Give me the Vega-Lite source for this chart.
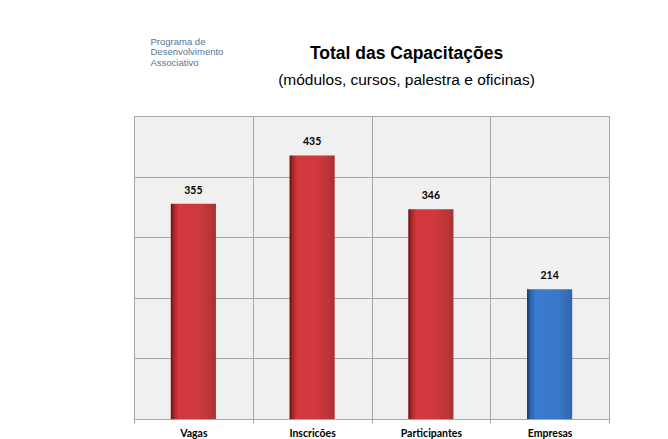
{
  "$schema": "https://vega.github.io/schema/vega-lite/v6.json",
  "autosize": "none",
  "width": 475,
  "height": 303,
  "padding": {"left": 134, "top": 116, "right": 59, "bottom": 20},
  "background": "white",
  "title": {
    "text": "Total das Capacitações",
    "subtitle": "(módulos, cursos, palestra e oficinas)",
    "font": "Liberation Sans",
    "fontSize": 17.5,
    "fontWeight": "bold",
    "color": "#000000",
    "subtitleFont": "Liberation Sans",
    "subtitleFontSize": 15.5,
    "subtitleColor": "#000000",
    "subtitlePadding": 10,
    "anchor": "middle",
    "frame": "bounds",
    "dx": 35,
    "offset": -52
  },
  "data": {
    "values": [
      {"categoria": "Vagas", "total": 355, "grupo": "a"},
      {"categoria": "Inscricões", "total": 435, "grupo": "a"},
      {"categoria": "Participantes", "total": 346, "grupo": "a"},
      {"categoria": "Empresas", "total": 214, "grupo": "b"}
    ]
  },
  "encoding": {
    "x": {
      "field": "categoria",
      "type": "nominal",
      "sort": null,
      "scale": {"paddingInner": 0, "paddingOuter": 0},
      "axis": {
        "title": null,
        "labelAngle": 0,
        "labelFont": "Lato",
        "labelFontSize": 10.5,
        "labelFontWeight": "bold",
        "labelColor": "#000000",
        "labelPadding": 5,
        "grid": true,
        "gridColor": "#a6a6a6",
        "tickBand": "extent",
        "domainColor": "#a6a6a6",
        "tickColor": "#a6a6a6",
        "tickSize": 4
      }
    },
    "y": {
      "field": "total",
      "type": "quantitative",
      "scale": {"domain": [0, 500], "nice": false},
      "axis": {
        "values": [0, 100, 200, 300, 400, 500],
        "labels": false,
        "ticks": false,
        "domain": false,
        "grid": true,
        "gridColor": "#a6a6a6",
        "title": ["Programa de", "Desenvolvimento", "Associativo"],
        "titleAngle": 0,
        "titleX": 16,
        "titleY": -80,
        "titleAlign": "left",
        "titleBaseline": "top",
        "titleFont": "Liberation Sans",
        "titleFontSize": 9.5,
        "titleFontWeight": "normal",
        "titleColor": "#5a7397",
        "titleLineHeight": 10.5
      }
    }
  },
  "layer": [
    {
      "mark": {"type": "bar", "width": {"band": 0.38}},
      "encoding": {
        "color": {
          "condition": {
            "test": "datum.grupo === 'b'",
            "value": {
              "gradient": "linear", "x1": 0, "x2": 1, "y1": 0, "y2": 0,
              "stops": [
                {"offset": 0, "color": "#0f2c55"},
                {"offset": 0.06, "color": "#2a5ea6"},
                {"offset": 0.2, "color": "#3b7bd0"},
                {"offset": 0.7, "color": "#3a77c6"},
                {"offset": 1, "color": "#3066ae"}
              ]
            }
          },
          "value": {
            "gradient": "linear", "x1": 0, "x2": 1, "y1": 0, "y2": 0,
            "stops": [
              {"offset": 0, "color": "#650808"},
              {"offset": 0.06, "color": "#a22626"},
              {"offset": 0.18, "color": "#d4383d"},
              {"offset": 0.6, "color": "#cf393d"},
              {"offset": 0.9, "color": "#b73437"},
              {"offset": 1, "color": "#a62f2f"}
            ]
          }
        }
      }
    },
    {
      "mark": {
        "type": "text",
        "baseline": "alphabetic",
        "dy": -10,
        "font": "Lato",
        "fontSize": 10.5,
        "fontWeight": "bold",
        "color": "#000000"
      },
      "encoding": {"text": {"field": "total", "type": "quantitative"}}
    }
  ],
  "config": {
    "view": {"fill": "#f0f0f0", "stroke": "#a6a6a6", "strokeWidth": 1}
  }
}
